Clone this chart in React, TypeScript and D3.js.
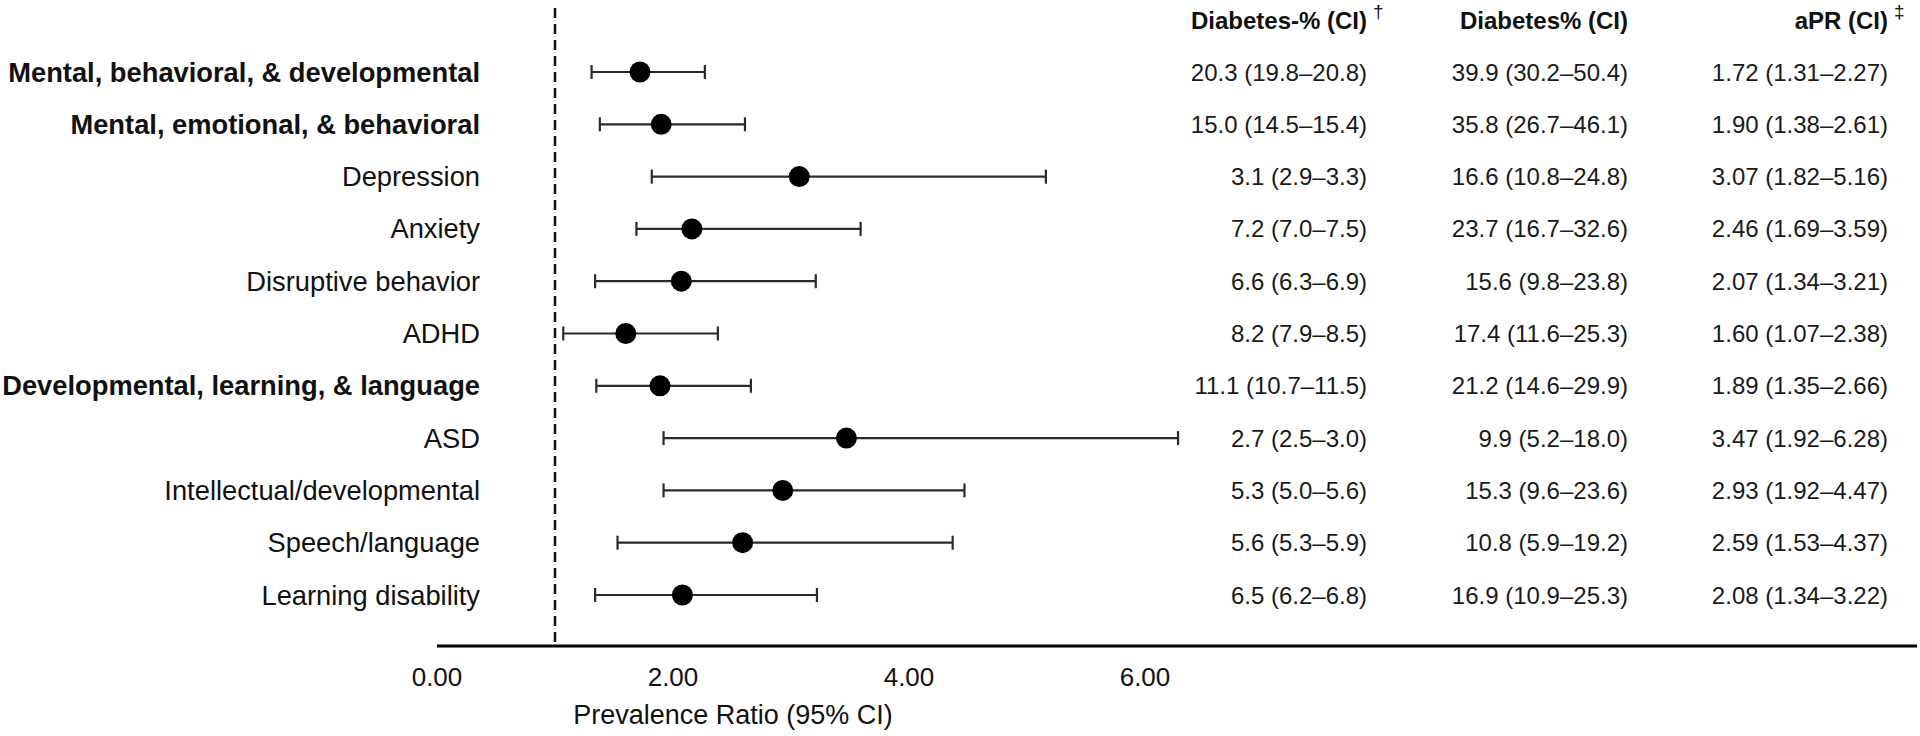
import React from "react";
import * as d3 from "d3";

const labels = [
  "Mental, behavioral, & developmental",
  "Mental, emotional, & behavioral",
  "Depression",
  "Anxiety",
  "Disruptive behavior",
  "ADHD",
  "Developmental, learning, & language",
  "ASD",
  "Intellectual/developmental",
  "Speech/language",
  "Learning disability",
];
const boldRows = [true, true, false, false, false, false, true, false, false, false, false];

// values printed in the aPR column
const aPR = [1.72, 1.9, 3.07, 2.46, 2.07, 1.6, 1.89, 3.47, 2.93, 2.59, 2.08];
const aPRLow = [1.31, 1.38, 1.82, 1.69, 1.34, 1.07, 1.35, 1.92, 1.92, 1.53, 1.34];
const aPRHigh = [2.27, 2.61, 5.16, 3.59, 3.21, 2.38, 2.66, 6.28, 4.47, 4.37, 3.22];
// point positions as drawn in the figure
const aPRPlotted = [1.72, 1.9, 3.07, 2.16, 2.07, 1.6, 1.89, 3.47, 2.93, 2.59, 2.08];

const noDiab = [20.3, 15.0, 3.1, 7.2, 6.6, 8.2, 11.1, 2.7, 5.3, 5.6, 6.5];
const noDiabLow = [19.8, 14.5, 2.9, 7.0, 6.3, 7.9, 10.7, 2.5, 5.0, 5.3, 6.2];
const noDiabHigh = [20.8, 15.4, 3.3, 7.5, 6.9, 8.5, 11.5, 3.0, 5.6, 5.9, 6.8];

const diab = [39.9, 35.8, 16.6, 23.7, 15.6, 17.4, 21.2, 9.9, 15.3, 10.8, 16.9];
const diabLow = [30.2, 26.7, 10.8, 16.7, 9.8, 11.6, 14.6, 5.2, 9.6, 5.9, 10.9];
const diabHigh = [50.4, 46.1, 24.8, 32.6, 23.8, 25.3, 29.9, 18.0, 23.6, 19.2, 25.3];

const xTicks = [0, 2, 4, 6];
const headers = ["Diabetes-% (CI)", "Diabetes% (CI)", "aPR (CI)"];
const headerMarks = ["\u2020", "", "\u2021"];
const xAxisTitle = "Prevalence Ratio (95% CI)";

const W = 1920;
const H = 736;
const FONT = "'Liberation Sans', Arial, Helvetica, sans-serif";

export default function App() {
  const x = d3.scaleLinear().domain([0, 6]).range([437, 1145]);
  const y = d3.scaleLinear().domain([0, labels.length - 1]).range([72, 595]);
  const axisY = 646;
  const labelX = 480;
  const colRight = [1367, 1628, 1888];
  const f1 = d3.format(".1f");
  const f2 = d3.format(".2f");

  const colText = (i: number) => [
    `${f1(noDiab[i])} (${f1(noDiabLow[i])}\u2013${f1(noDiabHigh[i])})`,
    `${f1(diab[i])} (${f1(diabLow[i])}\u2013${f1(diabHigh[i])})`,
    `${f2(aPR[i])} (${f2(aPRLow[i])}\u2013${f2(aPRHigh[i])})`,
  ];

  return (
    <svg
      width={W}
      height={H}
      style={{ position: "absolute", left: 0, top: 0, background: "#fff" }}
      fontFamily={FONT}
    >
      <rect x={0} y={0} width={W} height={H} fill="#fff" />
      <line
        x1={x(1)}
        x2={x(1)}
        y1={8}
        y2={axisY}
        stroke="#111"
        strokeWidth={2.5}
        strokeDasharray="10,6"
      />
      {headers.map((h, j) => (
        <g key={h}>
          <text
            x={colRight[j]}
            y={y(0) - 52}
            textAnchor="end"
            dominantBaseline="central"
            fontSize={24}
            fontWeight="bold"
            fill="#111"
          >
            {h}
          </text>
          {headerMarks[j] && (
            <text x={colRight[j] + 6} y={y(0) - 61} fontSize={19} fill="#111" dominantBaseline="central">
              {headerMarks[j]}
            </text>
          )}
        </g>
      ))}
      {labels.map((lab, i) => {
        const cy = y(i);
        return (
          <g key={lab}>
            <text
              x={labelX}
              y={cy}
              textAnchor="end"
              dominantBaseline="central"
              fontSize={27.3}
              fontWeight={boldRows[i] ? "bold" : "normal"}
              fill="#111"
            >
              {lab}
            </text>
            <line x1={x(aPRLow[i])} x2={x(aPRHigh[i])} y1={cy} y2={cy} stroke="#2a2a2a" strokeWidth={2.2} />
            <line x1={x(aPRLow[i])} x2={x(aPRLow[i])} y1={cy - 7} y2={cy + 7} stroke="#2a2a2a" strokeWidth={2.2} />
            <line x1={x(aPRHigh[i])} x2={x(aPRHigh[i])} y1={cy - 7} y2={cy + 7} stroke="#2a2a2a" strokeWidth={2.2} />
            <circle cx={x(aPRPlotted[i])} cy={cy} r={10.5} fill="#000" />
            {colText(i).map((t, j) => (
              <text
                key={j}
                x={colRight[j]}
                y={cy}
                textAnchor="end"
                dominantBaseline="central"
                fontSize={24}
                fill="#1a1a1a"
              >
                {t}
              </text>
            ))}
          </g>
        );
      })}
      <line x1={x(0)} x2={1917} y1={axisY} y2={axisY} stroke="#000" strokeWidth={3} />
      {xTicks.map((t) => (
        <text
          key={t}
          x={x(t)}
          y={axisY + 31}
          textAnchor="middle"
          dominantBaseline="central"
          fontSize={26}
          fill="#111"
        >
          {f2(t)}
        </text>
      ))}
      <text x={733} y={axisY + 69} textAnchor="middle" dominantBaseline="central" fontSize={27} fill="#111">
        {xAxisTitle}
      </text>
    </svg>
  );
}
